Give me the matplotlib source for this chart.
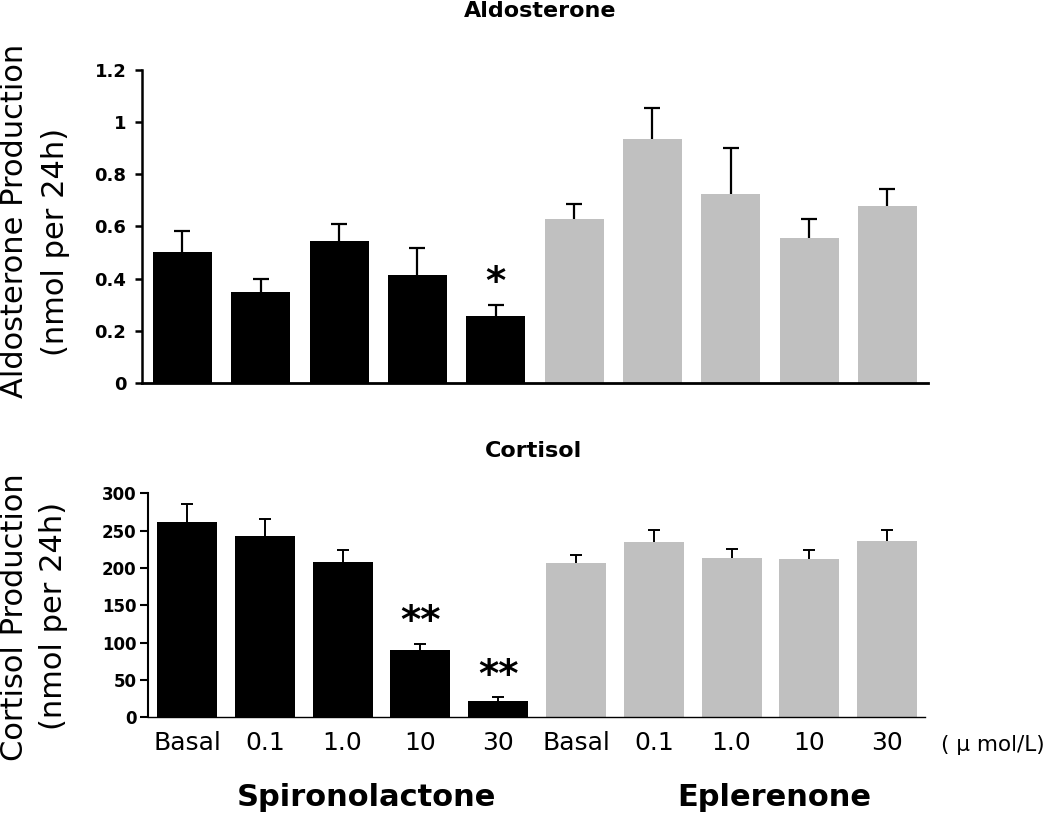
import numpy as np
import matplotlib
matplotlib.use("Agg")
import matplotlib.pyplot as plt

# groups and doses
doses = ["Basal", "0.1", "1.0", "10", "30"]
groups = ["Spironolactone", "Eplerenone"]

# aldosterone production (nmol per 24h), mean and upper SE
aldo_spiro = [0.50, 0.35, 0.545, 0.415, 0.255]
aldo_spiro_err = [0.083, 0.05, 0.065, 0.104, 0.045]
aldo_eple = [0.63, 0.935, 0.725, 0.555, 0.68]
aldo_eple_err = [0.055, 0.118, 0.175, 0.075, 0.062]

# cortisol production (nmol per 24h)
cort_spiro = [262, 243, 207.5, 90, 22.5]
cort_spiro_err = [23.5, 22.5, 16.5, 8, 5]
cort_eple = [206, 235, 213, 212, 236.5]
cort_eple_err = [11.5, 15.5, 12.5, 12, 14.5]

# significance marks: (bar index, height of mark centre, text)
aldo_marks = [(4, 0.426, "*")]
cort_marks = [(3, 142.8, "**"), (4, 70, "**")]

black = "#000000"
grey = "#c0c0c0"

fig = plt.figure(figsize=(10.5, 8.18), dpi=100)
ax1 = fig.add_axes([0.135, 0.532, 0.749, 0.3824])
ax2 = fig.add_axes([0.1407, 0.1231, 0.7405, 0.2739])

x = np.arange(len(doses) * 2)
xs = x[:len(doses)]
xe = x[len(doses):]


def upper_err(ax, xpos, vals, errs, lw, cap):
    # only the upper half of the error bar, with a cap on top
    vals = np.asarray(vals, dtype=float)
    tops = vals + np.asarray(errs, dtype=float)
    ax.vlines(xpos, vals, tops, colors=black, linewidth=lw, zorder=3)
    ax.plot(xpos, tops, ls="none", marker="_", markersize=2 * cap,
            markeredgewidth=lw, color=black, zorder=3)


def draw(ax, vs, es, ve, ee, width, lw, cap):
    ax.bar(xs, vs, width, color=black, zorder=2)
    ax.bar(xe, ve, width, color=grey, zorder=2)
    upper_err(ax, xs, vs, es, lw, cap)
    upper_err(ax, xe, ve, ee, lw, cap)
    for s in ["top", "right"]:
        ax.spines[s].set_visible(False)


# top panel: aldosterone
draw(ax1, aldo_spiro, aldo_spiro_err, aldo_eple, aldo_eple_err, 0.75, 1.6, 5.5)
ax1.set_xlim(-0.52, 9.52)
ax1.set_ylim(0, 1.2)
ax1.set_yticks([0, 0.2, 0.4, 0.6, 0.8, 1.0, 1.2])
ax1.set_yticklabels(["0", "0.2", "0.4", "0.6", "0.8", "1", "1.2"],
                    fontsize=13, fontweight="bold")
ax1.set_xticks([])
ax1.spines["left"].set_linewidth(1.8)
ax1.spines["bottom"].set_linewidth(2.0)
ax1.tick_params(axis="y", length=5, width=1.8, pad=6)
for i, y, t in aldo_marks:
    fs = 28
    ax1.annotate(t, xy=(x[i], y), xytext=(0, -0.57 * fs), textcoords="offset points",
                 ha="center", va="baseline", fontsize=fs, fontweight="bold")

# bottom panel: cortisol
draw(ax2, cort_spiro, cort_spiro_err, cort_eple, cort_eple_err, 0.77, 1.4, 4)
ax2.set_xlim(-0.505, 9.49)
ax2.set_ylim(0, 300)
ax2.set_yticks([0, 50, 100, 150, 200, 250, 300])
ax2.set_yticklabels(["0", "50", "100", "150", "200", "250", "300"],
                    fontsize=12, fontweight="bold")
ax2.set_xticks(x)
ax2.set_xticklabels(doses + doses, fontsize=18)
ax2.spines["left"].set_linewidth(1.5)
ax2.spines["bottom"].set_linewidth(1.0)
ax2.tick_params(axis="y", length=5.5, width=1.5, pad=2.5)
ax2.tick_params(axis="x", length=0, pad=10)
for i, y, t in cort_marks:
    fs = 28
    ax2.annotate(t, xy=(x[i], y), xytext=(0, -0.57 * fs), textcoords="offset points",
                 ha="center", va="baseline", fontsize=fs, fontweight="bold")

# titles
fig.text(540 / 1050, 1 - 11 / 818, "Aldosterone", ha="center", va="center",
         fontsize=16, fontweight="bold")
fig.text(533 / 1050, 1 - 451 / 818, "Cortisol", ha="center", va="center",
         fontsize=16, fontweight="bold")

# y labels (two lines each)
fig.text(15 / 1050, 1 - 221 / 818, "Aldosterone Production", rotation=90,
         ha="center", va="center", fontsize=22)
fig.text(56 / 1050, 1 - 242 / 818, "(nmol per 24h)", rotation=90,
         ha="center", va="center", fontsize=22)
fig.text(15 / 1050, 1 - 617 / 818, "Cortisol Production", rotation=90,
         ha="center", va="center", fontsize=22)
fig.text(54 / 1050, 1 - 616 / 818, "(nmol per 24h)", rotation=90,
         ha="center", va="center", fontsize=22)

# units and group names
fig.text(1045 / 1050, 1 - 745 / 818, "( \u03bc mol/L)", ha="right", va="center",
         fontsize=15.5)
fig.text(366 / 1050, 1 - 797 / 818, groups[0], ha="center", va="center",
         fontsize=22, fontweight="bold")
fig.text(774 / 1050, 1 - 797 / 818, groups[1], ha="center", va="center",
         fontsize=22, fontweight="bold")

fig.savefig("out.png", dpi=100)
